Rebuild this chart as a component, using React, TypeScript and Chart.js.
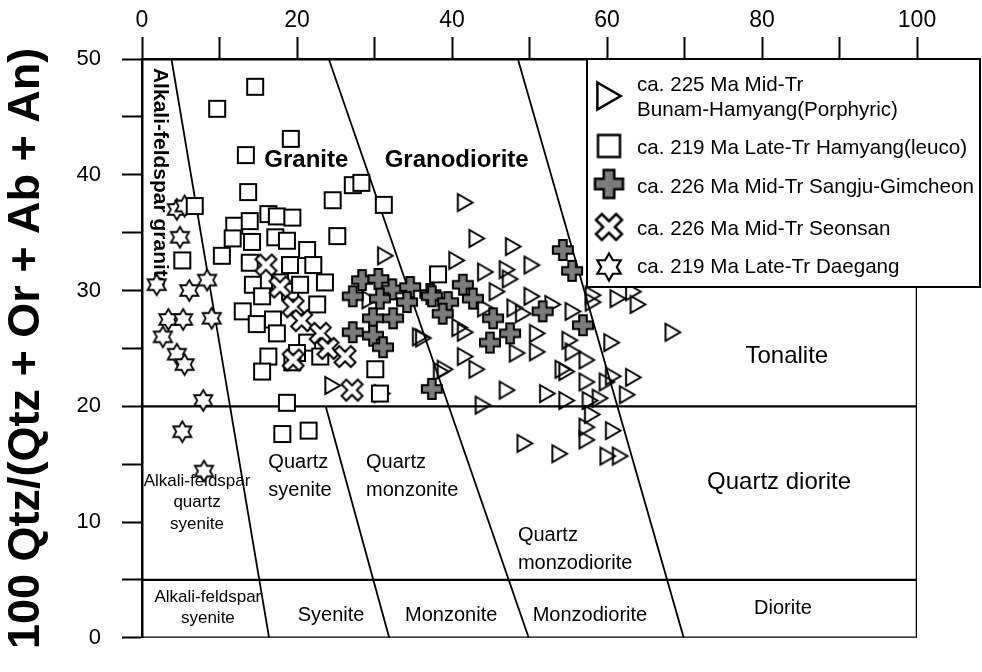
import { useEffect, useRef } from 'react';
import { Chart, registerables } from 'chart.js';

Chart.register(...registerables);

const FONT = "'Liberation Sans', Arial, Helvetica, sans-serif";

// Q–(A+P) classification field boundaries, [x, y] end points
const fieldBoundaries: number[][][] = [
  [[3.8, 50], [16.4, 0]],
  [[24.1, 50], [49.9, 0]],
  [[48.5, 50], [69.9, 0]],
  [[23.7, 20], [31.9, 0]],
];
const quartzLevels = [20, 5];

const yTitle = '100 Qtz/(Qtz + Or + Ab + An)';

const seriesNames: string[][] = [
  ['ca. 225 Ma Mid-Tr', 'Bunam-Hamyang(Porphyric)'],
  ['ca. 219 Ma Late-Tr Hamyang(leuco)'],
  ['ca. 226 Ma Mid-Tr Sangju-Gimcheon'],
  ['ca. 226 Ma Mid-Tr Seonsan'],
  ['ca. 219 Ma Late-Tr Daegang'],
];

// ca. 225 Ma Bunam-Hamyang (porphyric)
const bunamX = [31.4, 29.4, 36.3, 24.6, 31.0, 41.7, 43.2, 47.9, 40.6, 50.3, 44.3, 47.1, 47.5, 45.8, 50.3, 53.0, 48.1, 49.2, 55.6, 58.2, 44.3, 41.0, 41.7, 35.9, 51.0, 55.2, 55.6, 60.6, 48.4, 51.0, 41.7, 43.2, 39.1, 54.3, 54.8, 57.4, 57.4, 60.0, 63.4, 47.1, 52.3, 54.8, 57.8, 59.1, 62.6, 44.0, 58.1, 57.4, 60.8, 49.4, 53.9, 57.4, 60.1, 61.7, 58.2, 61.4, 63.4, 64.0, 68.5, 38.6, 60.8];
const bunamY = [33.0, 29.2, 25.9, 21.8, 21.1, 37.6, 34.5, 33.8, 32.6, 32.2, 31.6, 31.8, 31.0, 29.9, 29.5, 28.8, 28.5, 28.0, 28.2, 29.0, 28.5, 26.8, 26.4, 26.0, 26.3, 25.7, 24.7, 25.5, 24.6, 24.7, 24.3, 23.2, 23.2, 23.2, 23.0, 24.0, 22.1, 22.1, 22.5, 21.4, 21.1, 20.5, 20.5, 20.7, 21.0, 20.1, 19.3, 18.2, 17.9, 16.8, 15.9, 17.1, 15.7, 15.7, 29.6, 29.3, 29.9, 28.8, 26.4, 23.0, 22.6];

// ca. 219 Ma Hamyang (leucocratic)
const hamyangX = [14.6, 9.7, 19.2, 13.4, 13.7, 6.8, 24.6, 27.2, 28.3, 31.2, 25.2, 11.9, 13.9, 16.3, 17.4, 19.4, 11.7, 14.2, 17.2, 18.7, 10.3, 5.2, 13.9, 19.1, 21.3, 22.1, 23.6, 17.8, 14.3, 13.0, 15.5, 16.9, 19.1, 20.4, 22.6, 14.8, 17.4, 21.3, 20.0, 16.3, 15.5, 19.4, 23.0, 30.1, 30.7, 18.7, 18.1, 21.5, 38.2];
const hamyangY = [47.6, 45.7, 43.1, 41.7, 38.5, 37.3, 37.8, 39.1, 39.3, 37.4, 34.7, 35.6, 36.0, 36.6, 36.4, 36.3, 34.5, 34.2, 34.6, 34.3, 33.0, 32.6, 32.4, 32.2, 33.5, 32.2, 30.7, 30.7, 30.5, 28.2, 29.5, 27.5, 29.9, 30.5, 28.8, 27.1, 26.3, 25.5, 24.6, 24.3, 23.0, 23.8, 24.3, 23.2, 21.1, 20.3, 17.6, 17.9, 31.4];

// ca. 226 Ma Sangju-Gimcheon
const sangjuX = [28.4, 30.5, 32.3, 34.6, 37.2, 27.2, 30.7, 34.2, 29.8, 32.4, 27.2, 29.8, 31.1, 37.4, 39.5, 38.8, 41.4, 42.7, 45.3, 47.5, 44.9, 51.7, 54.3, 55.5, 56.9, 37.4];
const sangjuY = [30.9, 31.0, 30.1, 30.3, 29.7, 29.5, 29.3, 29.0, 27.6, 27.6, 26.4, 26.1, 25.1, 29.5, 29.0, 28.0, 30.5, 29.3, 27.6, 26.3, 25.5, 28.2, 33.5, 31.7, 27.0, 21.5];

// ca. 226 Ma Seonsan
const seonsanX = [16.0, 17.8, 19.5, 20.6, 23.0, 24.0, 26.2, 19.5, 27.1];
const seonsanY = [32.2, 30.3, 28.6, 27.4, 26.3, 25.0, 24.3, 24.0, 21.4];

// ca. 219 Ma Daegang
const daegangX = [4.5, 5.5, 4.9, 1.9, 6.1, 8.4, 3.4, 5.3, 9.0, 2.7, 4.5, 5.5, 7.9, 5.2, 8.0];
const daegangY = [37.0, 37.3, 34.6, 30.5, 30.0, 30.9, 27.5, 27.5, 27.6, 26.0, 24.5, 23.6, 20.5, 17.8, 14.4];

type Shape = 'triangle' | 'square' | 'plus' | 'cross' | 'star';

// Outlined marker glyphs rendered once to small canvases
function makeMarker(shape: Shape, size: number, lw: number): HTMLCanvasElement {
  const dim = Math.ceil(size + lw * 2 + 2);
  const c = document.createElement('canvas');
  c.width = dim;
  c.height = dim;
  const g = c.getContext('2d') as CanvasRenderingContext2D;
  const h = size / 2;
  g.translate(dim / 2, dim / 2);
  g.lineWidth = lw;
  g.strokeStyle = '#000';
  g.lineJoin = 'miter';
  g.beginPath();
  let fill: string | null = '#fff';
  if (shape === 'triangle') {
    const w = size * 0.43;
    g.moveTo(-w, -h);
    g.lineTo(w, 0);
    g.lineTo(-w, h);
    fill = null;
  } else if (shape === 'square') {
    g.rect(-h, -h, size, size);
  } else if (shape === 'plus' || shape === 'cross') {
    const a = size * (shape === 'plus' ? 0.19 : 0.16);
    const L = shape === 'plus' ? h : h * Math.SQRT2 - a;
    const pts = [[-a, -L], [a, -L], [a, -a], [L, -a], [L, a], [a, a], [a, L], [-a, L], [-a, a], [-L, a], [-L, -a], [-a, -a]];
    const r = shape === 'cross' ? Math.PI / 4 : 0;
    const cs = Math.cos(r), sn = Math.sin(r);
    pts.forEach(([px, py], i) => {
      const rx = px * cs - py * sn;
      const ry = px * sn + py * cs;
      if (i === 0) g.moveTo(rx, ry); else g.lineTo(rx, ry);
    });
    if (shape === 'plus') fill = '#7c7c7c';
  } else {
    for (let i = 0; i < 12; i++) {
      const ang = -Math.PI / 2 + (i * Math.PI) / 6;
      const rad = i % 2 === 0 ? h : h / Math.sqrt(3);
      const px = Math.cos(ang) * rad, py = Math.sin(ang) * rad;
      if (i === 0) g.moveTo(px, py); else g.lineTo(px, py);
    }
  }
  g.closePath();
  if (fill) {
    g.fillStyle = fill;
    g.fill();
  }
  g.stroke();
  return c;
}

const toPoints = (xs: number[], ys: number[]) => xs.map((x, i) => ({ x, y: ys[i] }));

type FieldLabel = {
  lines: string[];
  x: number;
  y: number;
  size: number;
  bold?: boolean;
  align?: CanvasTextAlign;
  lh?: number;
  rotate?: number;
};

const fieldLabels: FieldLabel[] = [
  { lines: ['Alkali-feldspar granite'], x: 2.3, y: 39.7, size: 21, bold: true, rotate: 90 },
  { lines: ['Granite'], x: 21.2, y: 41.2, size: 24, bold: true },
  { lines: ['Granodiorite'], x: 40.6, y: 41.2, size: 24, bold: true },
  { lines: ['Tonalite'], x: 83.2, y: 24.3, size: 24 },
  { lines: ['Alkali-feldspar', 'quartz', 'syenite'], x: 7.1, y: 11.7, size: 17, lh: 21.5 },
  { lines: ['Quartz', 'syenite'], x: 16.3, y: 13.9, size: 20, lh: 28, align: 'left' },
  { lines: ['Quartz', 'monzonite'], x: 28.9, y: 13.9, size: 20, lh: 28, align: 'left' },
  { lines: ['Quartz', 'monzodiorite'], x: 48.5, y: 7.6, size: 20, lh: 28, align: 'left' },
  { lines: ['Quartz diorite'], x: 82.2, y: 13.4, size: 24 },
  { lines: ['Alkali-feldspar', 'syenite'], x: 8.5, y: 2.55, size: 17, lh: 21 },
  { lines: ['Syenite'], x: 24.4, y: 1.9, size: 20 },
  { lines: ['Monzonite'], x: 39.9, y: 1.9, size: 20 },
  { lines: ['Monzodiorite'], x: 57.8, y: 1.9, size: 20 },
  { lines: ['Diorite'], x: 82.7, y: 2.5, size: 20 },
];

export default function App() {
  const ref = useRef<HTMLCanvasElement | null>(null);

  useEffect(() => {
    const canvas = ref.current;
    if (!canvas) return;

    const plot = {
      triangle: makeMarker('triangle', 17, 2),
      square: makeMarker('square', 16, 2),
      plus: makeMarker('plus', 20, 2),
      cross: makeMarker('cross', 21, 2),
      star: makeMarker('star', 21, 1.8),
    };
    const key = {
      triangle: makeMarker('triangle', 27, 2.5),
      square: makeMarker('square', 22, 2.5),
      plus: makeMarker('plus', 28, 2.5),
      cross: makeMarker('cross', 26, 2.5),
      star: makeMarker('star', 27, 2.2),
    };
    const keyMarkers = [key.triangle, key.square, key.plus, key.cross, key.star];

    const fieldPlugin = {
      id: 'qapFields',
      beforeDatasetsDraw(chart: Chart) {
        const { ctx } = chart;
        const xs = chart.scales.x;
        const ys = chart.scales.y;
        ctx.save();
        ctx.fillStyle = '#000';
        ctx.textBaseline = 'middle';
        for (const f of fieldLabels) {
          const px = xs.getPixelForValue(f.x);
          const py = ys.getPixelForValue(f.y);
          ctx.font = `${f.bold ? 'bold ' : ''}${f.size}px ${FONT}`;
          ctx.textAlign = f.align ?? 'center';
          const lh = f.lh ?? f.size * 1.2;
          ctx.save();
          ctx.translate(px, py);
          if (f.rotate) ctx.rotate((f.rotate * Math.PI) / 180);
          f.lines.forEach((t, i) => ctx.fillText(t, 0, (i - (f.lines.length - 1) / 2) * lh));
          ctx.restore();
        }
        ctx.restore();
      },
      afterDatasetsDraw(chart: Chart) {
        const { ctx, chartArea } = chart;
        const left = 587;
        const right = 980;
        const top = chartArea.top;
        const bottom = 287;
        ctx.save();
        ctx.fillStyle = '#fff';
        ctx.fillRect(left, top, right - left, bottom - top);
        ctx.lineWidth = 2;
        ctx.strokeStyle = '#000';
        ctx.strokeRect(left, top, right - left, bottom - top);
        ctx.fillStyle = '#000';
        ctx.font = `20.6px ${FONT}`;
        ctx.textAlign = 'left';
        ctx.textBaseline = 'middle';
        const rowY = [[96, 85, 110], [146, 148], [184, 187], [227, 229], [267, 267]];
        seriesNames.forEach((lines, i) => {
          const m = keyMarkers[i];
          const [my, ...ty] = rowY[i];
          ctx.drawImage(m, 609 - m.width / 2, my - m.height / 2);
          lines.forEach((t, j) => ctx.fillText(t, 637, ty[j]));
        });
        ctx.restore();
      },
    };

    const lineSet = (pts: number[][], width: number) => ({
      data: pts.map(([x, y]) => ({ x, y })),
      showLine: true,
      pointRadius: 0,
      borderColor: '#000',
      backgroundColor: '#000',
      borderWidth: width,
      order: 10,
    });

    const markerSet = (label: string, data: { x: number; y: number }[], style: HTMLCanvasElement, order: number) => ({
      label,
      data,
      pointStyle: style,
      pointRadius: 8,
      borderColor: '#000',
      backgroundColor: '#fff',
      order,
    });

    const datasets: any[] = [
      markerSet(seriesNames[0].join(' '), toPoints(bunamX, bunamY), plot.triangle, 4),
      markerSet(seriesNames[1][0], toPoints(hamyangX, hamyangY), plot.square, 3),
      markerSet(seriesNames[2][0], toPoints(sangjuX, sangjuY), plot.plus, 2),
      markerSet(seriesNames[3][0], toPoints(seonsanX, seonsanY), plot.cross, 1),
      markerSet(seriesNames[4][0], toPoints(daegangX, daegangY), plot.star, 5),
      ...fieldBoundaries.map((seg) => lineSet(seg, 1.8)),
      ...quartzLevels.map((q) => lineSet([[0, q], [100, q]], 2.2)),
      lineSet([[100, 0], [100, 50]], 2.5),
      lineSet([[0, 0], [100, 0]], 2.5),
    ];

    const chart = new Chart(canvas, {
      type: 'scatter',
      data: { datasets },
      options: {
        animation: false,
        responsive: false,
        events: [],
        layout: { padding: { left: 0, right: 65, top: 0, bottom: 14 } },
        plugins: { legend: { display: false }, tooltip: { enabled: false } },
        scales: {
          x: {
            type: 'linear',
            position: 'top',
            min: 0,
            max: 100,
            afterFit: (s: any) => {
              s.height = 59;
            },
            ticks: {
              stepSize: 10,
              autoSkip: false,
              maxRotation: 0,
              color: '#000',
              padding: 3,
              font: { family: FONT, size: 23 },
              callback: (v: any) => (Number(v) % 20 === 0 ? String(v) : ''),
            },
            grid: { drawOnChartArea: false, drawTicks: true, tickLength: 22, tickColor: '#000', tickWidth: 2 },
            border: { display: true, color: '#000', width: 2.5 },
          },
          y: {
            type: 'linear',
            min: 0,
            max: 50,
            afterFit: (s: any) => {
              s.width = 142;
            },
            ticks: {
              stepSize: 5,
              autoSkip: false,
              color: '#000',
              padding: 21,
              font: { family: FONT, size: 22 },
              callback: (v: any) => (Number(v) % 10 === 0 ? String(v) : ''),
            },
            grid: { drawOnChartArea: false, drawTicks: true, tickLength: 20, tickColor: '#000', tickWidth: 2 },
            border: { display: true, color: '#000', width: 2.5 },
            title: {
              display: true,
              text: yTitle,
              color: '#000',
              padding: 0,
              font: { family: FONT, size: 45, weight: 'bold' },
            },
          },
        },
      },
      plugins: [fieldPlugin],
    });

    return () => chart.destroy();
  }, []);

  return (
    <div style={{ position: 'fixed', left: 0, top: 0, width: 982, height: 672, background: '#fff' }}>
      <canvas ref={ref} width={982} height={672} style={{ display: 'block' }} />
    </div>
  );
}
